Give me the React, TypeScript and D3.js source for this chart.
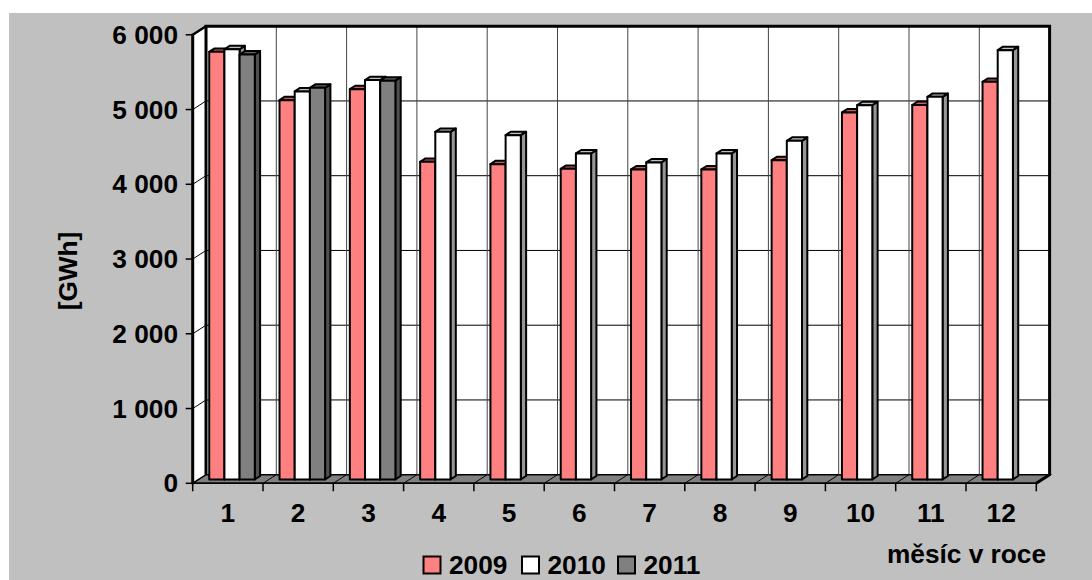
import React from "react";
import * as d3 from "d3";

const months = ["1", "2", "3", "4", "5", "6", "7", "8", "9", "10", "11", "12"];
const series = ["2009", "2010", "2011"];
const v2009 = [5720, 5074, 5221, 4249, 4218, 4155, 4147, 4147, 4271, 4910, 5009, 5319];
const v2010 = [5755, 5191, 5342, 4650, 4606, 4361, 4241, 4361, 4530, 5007, 5118, 5743];
const v2011: (number | null)[] = [5685, 5239, 5335, null, null, null, null, null, null, null, null, null];
const yTicks = [0, 1000, 2000, 3000, 4000, 5000, 6000];
const yTickLabels = ["0", "1 000", "2 000", "3 000", "4 000", "5 000", "6 000"];
const yTitle = "[GWh]";
const xTitle = "měsíc v roce";

const W = 1092;
const H = 580;
const X0 = 192.7;
const Y0 = 483.3;
const DX = 13.3;
const DY = -8.6;
const Z0 = 0.45;
const Z1 = 0.85;
const FONT = "'Liberation Sans', Arial, sans-serif";
const FS = 25;
const SX = 1.05;

const front = ["#ff8080", "#ffffff", "#808080"];
const topC = ["#c06060", "#c0c0c0", "#606060"];
const sideC = ["#a05050", "#969696", "#505050"];

function T({ x, y, anchor = "start", rotate = 0, children }: { x: number; y: number; anchor?: string; rotate?: number; children: React.ReactNode }) {
  return (
    <text
      transform={`translate(${x},${y}) rotate(${rotate}) scale(${SX},1)`}
      textAnchor={anchor}
      fontSize={FS}
      fontWeight="bold"
      fill="#000"
    >
      {children}
    </text>
  );
}

export default function App() {
  const x = d3.scaleBand<string>().domain(months).range([0, 843.6]);
  const cw = x.bandwidth();
  const y = d3.scaleLinear().domain([0, 6000]).range([0, 448.5]);
  const P = (xx: number, v: number, z: number): [number, number] => [X0 + xx + DX * z, Y0 - y(v) + DY * z];
  const pts = (a: [number, number][]) => a.map((p) => p.join(",")).join(" ");
  const totalW = 843.6;
  const values = [v2009, v2010, v2011];

  const bars: JSX.Element[] = [];
  months.forEach((m, i) => {
    values.forEach((arr, s) => {
      const v = arr[i];
      if (v == null) return;
      const bw = cw * 0.216;
      const x0 = (x(m) as number) + cw * 0.15 + s * bw;
      const x1 = x0 + bw;
      bars.push(
        <g key={`${m}-${s}`} stroke="#000" strokeWidth={2} strokeLinejoin="round">
          <polygon points={pts([P(x1, 0, Z0), P(x1, 0, Z1), P(x1, v, Z1), P(x1, v, Z0)])} fill={sideC[s]} />
          <polygon points={pts([P(x0, v, Z0), P(x1, v, Z0), P(x1, v, Z1), P(x0, v, Z1)])} fill={topC[s]} />
          <polygon points={pts([P(x0, 0, Z0), P(x1, 0, Z0), P(x1, v, Z0), P(x0, v, Z0)])} fill={front[s]} />
        </g>
      );
    });
  });

  const vmax = 6000;
  return (
    <div style={{ position: "absolute", left: 0, top: 0 }}>
      <svg width={W} height={H} style={{ display: "block" }} fontFamily={FONT}>
        <rect x={0} y={0} width={W} height={H} fill="#fff" />
        <rect x={9} y={13} width={W - 9} height={H - 13} fill="#c0c0c0" />
        {/* back wall */}
        <polygon points={pts([P(0, 0, 1), P(totalW, 0, 1), P(totalW, vmax, 1), P(0, vmax, 1)])} fill="#fff" />
        {/* side wall */}
        <polygon points={pts([P(0, 0, 0), P(0, 0, 1), P(0, vmax, 1), P(0, vmax, 0)])} fill="#fff" stroke="#000" strokeWidth={1} />
        {/* floor */}
        <polygon points={pts([P(0, 0, 0), P(totalW, 0, 0), P(totalW, 0, 1), P(0, 0, 1)])} fill="#808080" stroke="#000" strokeWidth={1.5} />
        {/* gridlines */}
        {yTicks.slice(1, -1).map((t) => (
          <g key={t} stroke="#000" strokeWidth={1}>
            <line x1={P(0, t, 1)[0]} y1={P(0, t, 1)[1]} x2={P(totalW, t, 1)[0]} y2={P(totalW, t, 1)[1]} />
            <line x1={P(0, t, 0)[0]} y1={P(0, t, 0)[1]} x2={P(0, t, 1)[0]} y2={P(0, t, 1)[1]} />
          </g>
        ))}
        {months.slice(1).map((m) => {
          const xx = x(m) as number;
          return (
            <g key={m} stroke="#000" strokeWidth={1}>
              <line x1={P(xx, 0, 1)[0]} y1={P(xx, 0, 1)[1]} x2={P(xx, vmax, 1)[0]} y2={P(xx, vmax, 1)[1]} stroke="#444" />
              <line x1={P(xx, 0, 0)[0]} y1={P(xx, 0, 0)[1]} x2={P(xx, 0, 1)[0]} y2={P(xx, 0, 1)[1]} />
            </g>
          );
        })}
        {/* back wall outline */}
        <polyline
          points={pts([P(0, 0, 1), P(0, vmax, 1), P(totalW, vmax, 1), P(totalW, 0, 1), P(totalW, 0, 0)])}
          fill="none"
          stroke="#000"
          strokeWidth={3}
          strokeLinejoin="miter"
        />
        <polyline points={pts([P(0, vmax, 0), P(0, vmax, 1)])} fill="none" stroke="#000" strokeWidth={2.5} />
        {/* category ticks */}
        {[...months.map((m) => x(m) as number), totalW].map((xx, k) => (
          <line key={k} x1={P(xx, 0, 0)[0]} y1={Y0} x2={P(xx, 0, 0)[0]} y2={Y0 + 8} stroke="#000" strokeWidth={1.5} />
        ))}
        {/* bars */}
        {bars}
        {/* front axis */}
        <line x1={X0} y1={Y0 + 1} x2={X0} y2={Y0 - y(vmax) - 1} stroke="#000" strokeWidth={3} />
        <line x1={X0} y1={Y0} x2={X0 + totalW} y2={Y0} stroke="#000" strokeWidth={1.5} />
        {yTicks.map((t, k) => (
          <g key={t}>
            <line x1={X0 - 7} y1={Y0 - y(t)} x2={X0} y2={Y0 - y(t)} stroke="#000" strokeWidth={1.5} />
            <T x={178} y={Y0 - y(t) + 9} anchor="end">
              {yTickLabels[k]}
            </T>
          </g>
        ))}
        {months.map((m) => (
          <T key={m} x={X0 + (x(m) as number) + cw / 2} y={522} anchor="middle">
            {m}
          </T>
        ))}
        <T x={77} y={271} anchor="middle" rotate={-90}>
          {yTitle}
        </T>
        <T x={887} y={563}>
          {xTitle}
        </T>
        {/* legend */}
        {series.map((s, k) => {
          const lx = [423.5, 522, 618][k];
          return (
            <g key={s}>
              <rect x={lx} y={556.5} width={17} height={17} fill={front[k]} stroke="#000" strokeWidth={2} />
              <T x={lx + 25.5} y={573.5}>
                {s}
              </T>
            </g>
          );
        })}
      </svg>
    </div>
  );
}
